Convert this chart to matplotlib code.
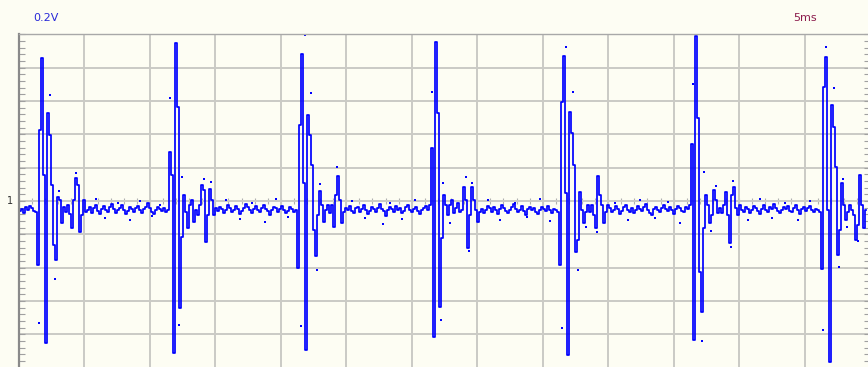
import numpy as np
import matplotlib.pyplot as plt
from matplotlib.ticker import MultipleLocator, NullFormatter

# scope settings: 0.2 V/div, 5 ms/div, trace in mV vs ms
dt = 0.1528  # ms between samples
starts = [0.08, 1.30, 11.38, 21.16, 31.24, 41.02, 51.26, 61.04]

lead = [-48, -38, -58, -29, -43, -24, -34, -48]

burst1 = [-53, -307, 341, 686, 125, -682, 422, 317, 77, -211, -283, 19, 5,
          -106, -29, -53, -19, -62, -130, 5, 110, 77, -149, -67, 5, -53]
noise1 = [-43, -29, -58, -34, -19, -48, -62, -38, -24, -43, -53, -29, -14,
          -38, -58, -43, -34, -19, -43, -62, -48, -29, -38, -53, -34, -24,
          -43, -58, -38, -29, -10, -34, -53, -62, -43, -29, -38, -48, -34, -53]

burst2 = [-43, 235, 125, -730, 758, 451, -514, -173, 29, -53, -130, -19, 5,
          -101, -43, -67, -19, 77, 53, -197, -67, 58, 5, -67, -34]
noise2 = [-48, -29, -38, -58, -43, -19, -34, -53, -43, -24, -38, -62, -48,
          -34, -14, -29, -43, -58, -38, -24, -43, -53, -34, -19, -38, -48,
          -67, -43, -29, -34, -53, -38, -24, -43, -58, -48, -29, -38, -53]

burst3 = [-43, -322, 365, 706, 86, -715, 413, 317, 173, -139, -264, -67, 48,
          -19, -101, -43, -19, -58, -19, -125, 29, 120, 5, -106, -53, -34]
noise3 = [-43, -24, -48, -58, -34, -29, -53, -38, -19, -43, -62, -48, -29,
          -38, -53, -34, -14, -38, -48, -72, -43, -29, -38, -53, -24, -43,
          -34, -58, -48, -29, -19, -43, -53, -38, -29, -48, -62, -43, -34, -24]

burst4 = [-43, -19, 254, -653, 763, 422, -509, -178, 29, -19, -67, -19, 5,
          -58, -34, -10, -53, -43, 67, 5, -226, -67, 67, 5, -43, -101, -53]
noise4 = [-38, -58, -43, -24, -34, -53, -29, -43, -62, -38, -19, -34, -48,
          -58, -43, -29, -14, -38, -53, -43, -24, -48, -67, -38, -29, -43,
          -34, -53, -62, -43, -29, -38, -48, -24, -43, -58, -38]

burst5 = [-43, -53, -307, 475, 696, 38, -739, 427, 326, 173, -245, -187, 43,
          -43, -106, -53, -19, -53, -19, -67, -130, 120, 29, -19, -106, -53, -19]
noise5 = [-34, -53, -43, -24, -38, -62, -48, -29, -19, -43, -53, -34, -58,
          -43, -24, -38, -48, -29, -14, -43, -58, -67, -38, -29, -43, -53,
          -34, -19, -38, -48, -29, -43, -62, -38, -24, -34, -48, -53, -29, -38]

burst6 = [-19, 274, -667, 792, 398, -341, -533, -130, 29, -19, -106, -67, 53,
          5, -58, -34, -58, -19, 43, -67, -202, 29, 67, -34, -67, -19, -43]
noise6 = [-53, -29, -38, -58, -43, -24, -34, -48, -62, -38, -19, -43, -53,
          -29, -38, -14, -34, -48, -58, -43, -29, -38, -24, -48, -53, -34,
          -19, -43, -62, -38, -29, -48, -34, -24, -43, -53, -38]

burst7 = [-43, -53, -326, 547, 691, -43, -773, 461, 355, 163, -259, -139, 86,
          -19, -91, -53, -19, -43, -67, -187, -115, 125, -19, -130, -43]

cycles = [lead, burst1 + noise1, burst2 + noise2, burst3 + noise3,
          burst4 + noise4, burst5 + noise5, burst6 + noise6, burst7]

# loose sample dots (peak detect)
dot_t = [2.37, 2.75, 1.53, 4.35, 3.06,
         11.54, 12.22, 12.45, 14.13, 14.67,
         21.85, 22.31, 22.76, 21.54, 24.29, 22.99,
         31.55, 32.24, 32.39, 34.15, 34.61, 34.38, 32.93,
         41.79, 42.32, 42.71, 41.48, 44.16, 43.31,
         51.49, 52.18, 52.33, 53.24, 54.54, 54.39, 52.86,
         61.65, 62.26, 62.64, 61.42, 62.95, 63.25, 64.09,
         5.88, 6.57, 7.56, 8.48, 9.24, 10.16, 10.77,
         15.81, 16.88, 17.80, 18.79, 19.63, 20.55,
         25.44, 26.43, 27.81, 28.34, 29.26, 30.25,
         35.83, 36.74, 37.89, 38.81, 39.80, 40.56,
         45.53, 46.52, 47.44, 48.59, 49.58, 50.50,
         55.69, 56.61, 57.52, 58.52, 59.51, 60.43]
dot_v = [509, -374, -586, 134, 48,
         494, -595, 115, 106, 91,
         797, 518, -331, -600, 163, 82,
         523, -571, 86, 115, 86, -240, -106,
         739, 523, -331, -610, -149, -125,
         562, -672, 139, 72, 96, -221, -144,
         739, 542, -317, -619, 106, -125, -192,
         10, -82, -10, -91, 0, -72, -19,
         5, -86, -10, -101, 10, -77,
         0, -82, -110, -10, -86, 5,
         5, -91, -10, -77, 10, -96,
         -10, -91, 5, -82, -5, -106,
         -91, 10, -82, -10, -91, 0]

t = np.concatenate([s + np.arange(len(c)) * dt for s, c in zip(starts, cycles)])
v = np.concatenate([np.array(c, dtype=float) for c in cycles])

bg = "#FDFDF3"
fig = plt.figure(figsize=(8.68, 3.67), dpi=100, facecolor=bg)
ax = fig.add_axes([19 / 868, -0.8 / 367, 851 / 868, 333.6 / 367])
ax.set_facecolor(bg)

ax.plot(t, v, color="#0000FF", lw=1.25, drawstyle="steps-mid")
ax.plot(dot_t, dot_v, ls="none", marker="s", ms=1.5, mew=0, color="#0000FF")

ax.set_xlim(0, 65)
ax.set_ylim(-800, 800)
ax.xaxis.set_major_locator(MultipleLocator(5))
ax.yaxis.set_major_locator(MultipleLocator(160))
ax.yaxis.set_minor_locator(MultipleLocator(32))
ax.grid(True, which="major", color="#CACAC5", lw=1.4)
ax.set_axisbelow(True)
ax.set_xticklabels([])
ax.set_yticklabels([])
ax.tick_params(axis="x", which="both", length=0)
ax.tick_params(axis="y", which="both", direction="in", length=4,
               color="#A0A0A0", right=True, width=0.8)

for side in ["top", "right", "bottom"]:
    ax.spines[side].set_color("#A8A8A8")
    ax.spines[side].set_linewidth(1.0)
ax.spines["left"].set_color("#8A8A8A")
ax.spines["left"].set_linewidth(1.6)

# small ticks along the centre line
mid = ax.secondary_xaxis(0.5)
mid.xaxis.set_major_locator(MultipleLocator(1))
mid.xaxis.set_major_formatter(NullFormatter())
mid.tick_params(direction="inout", length=5, color="#B0B0B0", width=0.8,
                labelbottom=False, labeltop=False)
mid.spines["bottom"].set_visible(False)
mid.spines["top"].set_visible(False)

fig.text(33 / 868, 1 - 18 / 367, "0.2V", color="#2828D8", fontsize=8,
         va="center", ha="left", family="DejaVu Sans")
fig.text(793 / 868, 1 - 18 / 367, "5ms", color="#8C1C4C", fontsize=8,
         va="center", ha="left", family="DejaVu Sans")
fig.text(10 / 868, 1 - 201 / 367, "1", color="#303030", fontsize=7,
         va="center", ha="center", family="DejaVu Sans")

fig.savefig("out.png", dpi=100, facecolor=bg)
